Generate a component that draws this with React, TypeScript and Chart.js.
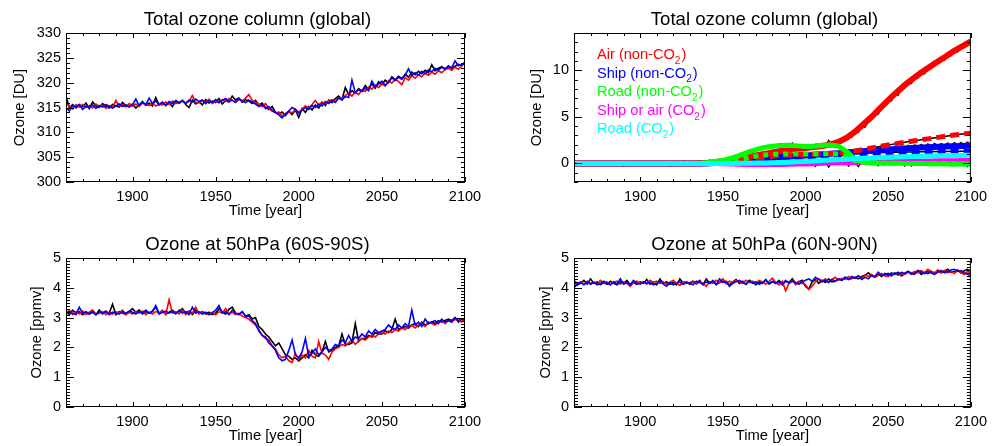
import { useEffect, useRef } from 'react';
import { Chart, registerables } from 'chart.js';

Chart.register(...registerables);

const FONT = "'Liberation Sans', Arial, Helvetica, sans-serif";

// ---------- categories / tick labels ----------
const YEARS2 = [
  1860, 1862, 1864, 1866, 1868, 1870, 1872, 1874, 1876, 1878,
  1880, 1882, 1884, 1886, 1888, 1890, 1892, 1894, 1896, 1898,
  1900, 1902, 1904, 1906, 1908, 1910, 1912, 1914, 1916, 1918,
  1920, 1922, 1924, 1926, 1928, 1930, 1932, 1934, 1936, 1938,
  1940, 1942, 1944, 1946, 1948, 1950, 1952, 1954, 1956, 1958,
  1960, 1962, 1964, 1966, 1968, 1970, 1972, 1974, 1976, 1978,
  1980, 1982, 1984, 1986, 1988, 1990, 1992, 1994, 1996, 1998,
  2000, 2002, 2004, 2006, 2008, 2010, 2012, 2014, 2016, 2018,
  2020, 2022, 2024, 2026, 2028, 2030, 2032, 2034, 2036, 2038,
  2040, 2042, 2044, 2046, 2048, 2050, 2052, 2054, 2056, 2058,
  2060, 2062, 2064, 2066, 2068, 2070, 2072, 2074, 2076, 2078,
  2080, 2082, 2084, 2086, 2088, 2090, 2092, 2094, 2096, 2098,
  2100,
];

const YEARS5 = [
  1860, 1865, 1870, 1875, 1880, 1885, 1890, 1895, 1900, 1905,
  1910, 1915, 1920, 1925, 1930, 1935, 1940, 1945, 1950, 1955,
  1960, 1965, 1970, 1975, 1980, 1985, 1990, 1995, 2000, 2005,
  2010, 2015, 2020, 2025, 2030, 2035, 2040, 2045, 2050, 2055,
  2060, 2065, 2070, 2075, 2080, 2085, 2090, 2095, 2100,
];

const X_TICKS = [1900, 1950, 2000, 2050, 2100];
const X_MIN = 1860;
const X_MAX = 2100;
const X_MINOR_STEP = 10;

const Y_TICKS_TOTAL = [300, 305, 310, 315, 320, 325, 330];
const Y_TICKS_CONTRIB = [0, 5, 10];
const Y_TICKS_PPMV = [0, 1, 2, 3, 4, 5];

// ---------- Total ozone column (global) ----------
const TOTAL_BLACK = [
  317.2, 315.0, 315.6, 314.9, 315.5,
  315.2, 315.9, 314.8, 316.1, 315.3,
  315.0, 315.8, 315.2, 314.9, 315.6,
  315.3, 315.1, 316.0, 315.4, 315.2,
  315.7, 314.9, 315.5, 316.2, 315.4,
  315.9, 315.3, 317.0, 315.5, 316.1,
  315.4, 316.0, 315.2, 316.3, 315.8,
  316.4, 315.6, 315.0, 316.5, 315.7,
  316.2, 315.5, 316.6, 315.9, 316.3,
  316.0, 316.8, 315.7, 316.4, 316.1,
  317.3, 316.5, 316.9, 316.1, 316.6,
  316.3, 315.8, 316.4, 315.5, 315.9,
  315.0, 314.6, 315.2, 314.0, 313.7,
  314.1, 313.4, 314.2, 313.6, 314.5,
  313.0, 314.8, 314.0, 315.2, 314.5,
  315.5, 314.9, 316.0, 315.4, 316.5,
  316.0, 316.8, 317.3, 316.6, 319.0,
  317.6, 318.4, 317.9, 318.8, 318.3,
  319.4, 318.6, 319.8, 318.9, 320.2,
  319.6, 320.5, 320.0, 321.2, 320.6,
  321.3, 320.8, 321.7, 321.1, 322.1,
  321.6, 322.3, 321.8, 322.5, 322.0,
  323.6, 322.4, 322.9, 323.2, 322.7,
  323.4, 322.9, 323.3, 323.7, 323.5,
  324.0,
];
const TOTAL_RED = [
  315.8, 315.3, 314.7, 315.6, 315.1,
  315.6, 315.0, 315.4, 314.9, 315.7,
  315.2, 315.5, 314.8, 315.4, 315.0,
  316.4, 315.3, 315.6, 315.1, 315.8,
  315.3, 315.7, 315.2, 315.9, 315.6,
  315.4, 315.9, 315.3, 315.7, 315.5,
  316.1, 315.6, 316.3, 315.8, 316.0,
  316.5, 315.8, 316.2, 317.4, 316.0,
  315.9, 316.4, 316.1, 316.7, 315.8,
  316.3, 315.9, 316.6, 316.2, 316.8,
  316.4, 316.1, 316.7, 316.3, 316.9,
  317.6, 316.5, 316.0, 315.6, 315.2,
  315.8, 314.8, 314.3, 313.9, 314.1,
  313.3, 313.8, 314.2, 313.9, 314.6,
  314.0, 314.7, 315.3, 314.9, 315.6,
  316.4, 315.5, 316.1, 315.7, 316.3,
  316.6, 316.2, 317.0, 316.8, 317.4,
  317.9, 317.3, 318.1, 317.6, 318.5,
  318.2, 319.1, 318.7, 319.5, 319.0,
  319.8, 319.3, 320.4, 319.9, 320.7,
  320.2, 319.6, 321.0, 320.5, 321.4,
  320.9, 321.6, 321.2, 321.9, 321.5,
  322.1, 321.7, 322.4, 322.0, 322.6,
  322.9, 322.5, 323.1, 322.7, 323.3,
  324.3,
];
const TOTAL_BLUE = [
  315.0, 314.3, 315.4, 315.1, 315.6,
  314.6, 315.3, 315.0, 315.5, 314.8,
  315.4, 315.1, 315.6, 315.2, 314.9,
  315.3, 315.7, 315.2, 315.5, 315.1,
  315.5, 316.7, 315.4, 316.0, 315.6,
  316.9, 315.8, 316.3, 315.6, 316.0,
  315.5, 316.2, 315.8, 316.4, 316.0,
  316.3, 315.9, 316.5, 316.1, 316.7,
  316.2, 316.5, 315.8, 316.4, 316.0,
  316.6, 316.1, 316.4, 316.8, 316.2,
  316.5, 316.0, 316.7, 316.3, 316.0,
  316.5, 316.1, 315.7, 315.2, 315.6,
  314.8, 315.2, 314.4, 314.0, 313.5,
  312.9, 313.6, 314.3, 315.0, 314.6,
  313.9, 314.4, 315.0, 314.6, 315.4,
  315.0, 315.6, 315.3, 316.2, 315.8,
  316.4, 316.0, 316.9, 316.5, 317.2,
  317.0, 320.5, 318.0, 318.6, 318.2,
  318.9, 318.4, 320.3, 319.2, 319.7,
  320.3, 319.5, 320.1, 321.0, 320.4,
  321.1, 320.7, 321.5, 322.8, 321.4,
  322.0, 321.5, 322.3, 321.8, 322.6,
  322.2, 322.9, 322.5, 323.1, 322.8,
  323.2, 323.0, 324.4, 323.4, 323.6,
  323.8,
];

// ---------- Ozone at 50hPa (60S-90S) ----------
const SOUTH_BLACK = [
  3.20, 3.10, 3.25, 3.15, 3.20,
  3.10, 3.18, 3.12, 3.22, 3.10,
  3.25, 3.12, 3.20, 3.15, 3.45,
  3.10, 3.20, 3.15, 3.10, 3.20,
  3.30, 3.18, 3.25, 3.12, 3.20,
  3.15, 3.22, 3.35, 3.15, 3.20,
  3.12, 3.18, 3.25, 3.15, 3.20,
  3.30, 3.15, 3.22, 3.10, 3.25,
  3.15, 3.20, 3.12, 3.18, 3.10,
  3.15, 3.30, 3.20, 3.12, 3.28,
  3.35, 3.15, 3.10, 3.20, 3.05,
  3.10, 2.95, 3.00, 2.70, 2.60,
  2.45, 2.35, 2.20, 2.05, 2.15,
  1.95, 1.75, 1.70, 1.60, 1.65,
  1.55, 1.65, 1.75, 1.65, 1.90,
  1.75, 1.70, 1.85, 2.20, 1.85,
  1.90, 2.00, 2.05, 2.45, 2.10,
  2.10, 2.15, 2.80, 2.20, 2.30,
  2.30, 2.40, 2.35, 2.50, 2.45,
  2.45, 2.55, 2.50, 2.60, 2.95,
  2.60, 2.65, 2.70, 2.65, 2.75,
  2.80, 2.70, 2.85, 2.75, 2.80,
  2.85, 2.80, 2.90, 2.85, 2.90,
  2.95, 2.90, 3.00, 2.85, 2.95,
  2.90,
];
const SOUTH_RED = [
  3.15, 3.25, 3.10, 3.20, 3.12,
  3.22, 3.10, 3.18, 3.25, 3.12,
  3.15, 3.20, 3.10, 3.18, 3.12,
  3.20, 3.15, 3.25, 3.10, 3.18,
  3.12, 3.20, 3.15, 3.22, 3.10,
  3.18, 3.12, 3.20, 3.15, 3.25,
  3.10, 3.60, 3.15, 3.20, 3.12,
  3.25, 3.10, 3.20, 3.15, 3.35,
  3.12, 3.20, 3.15, 3.10, 3.18,
  3.10, 3.20, 3.15, 3.30, 3.12,
  3.18, 3.10, 3.15, 3.05, 3.00,
  2.95, 2.85, 2.75, 2.60, 2.40,
  2.30, 2.25, 2.05, 1.95, 1.75,
  1.65, 1.70, 1.55, 1.50, 1.80,
  1.60, 1.75, 1.65, 1.90, 1.70,
  1.65, 2.20, 1.80, 1.75, 1.60,
  1.85, 1.95, 2.00, 2.10, 2.05,
  2.15, 2.25, 2.10, 2.20, 2.30,
  2.25, 2.35, 2.40, 2.35, 2.45,
  2.50, 2.45, 2.55, 2.50, 2.60,
  2.55, 2.65, 2.60, 2.70, 2.75,
  2.65, 2.75, 2.80, 2.70, 2.85,
  2.80, 2.75, 2.85, 2.90, 2.80,
  2.90, 2.85, 2.95, 2.90, 2.85,
  3.00,
];
const SOUTH_BLUE = [
  3.12, 3.20, 3.15, 3.10, 3.35,
  3.15, 3.20, 3.12, 3.18, 3.10,
  3.20, 3.15, 3.22, 3.10, 3.18,
  3.15, 3.12, 3.20, 3.15, 3.22,
  3.18, 3.12, 3.20, 3.15, 3.25,
  3.15, 3.20, 3.40, 3.12, 3.18,
  3.22, 3.15, 3.20, 3.12, 3.25,
  3.15, 3.20, 3.10, 3.35, 3.15,
  3.20, 3.12, 3.18, 3.10, 3.15,
  3.25, 3.40, 3.15, 3.20, 3.10,
  3.25, 3.15, 3.10, 3.20, 3.05,
  3.05, 2.90, 2.80, 2.55, 2.40,
  2.35, 2.15, 2.05, 1.90, 1.65,
  1.55, 1.60, 1.90, 2.25, 1.75,
  1.65, 1.85, 2.30, 1.70, 1.80,
  1.95, 1.75, 1.85, 2.00, 1.90,
  1.95, 2.10, 2.05, 2.25, 2.15,
  2.40, 2.20, 2.35, 2.30, 2.45,
  2.35, 2.55, 2.45, 2.60, 2.50,
  2.55, 2.60, 2.75, 2.65, 2.60,
  2.75, 2.65, 2.80, 2.70, 3.25,
  2.75, 2.85, 2.70, 2.95, 2.80,
  2.85, 2.90, 2.80, 2.95, 2.85,
  2.90, 2.85, 3.00, 2.90, 2.95,
  2.95,
];

// ---------- Ozone at 50hPa (60N-90N) ----------
const NORTH_BLACK = [
  4.20, 4.10, 4.15, 4.25, 4.12,
  4.30, 4.15, 4.20, 4.10, 4.18,
  4.12, 4.22, 4.15, 4.10, 4.20,
  4.15, 4.25, 4.10, 4.18, 4.12,
  4.20, 4.15, 4.28, 4.12, 4.18,
  4.10, 4.30, 4.15, 4.20, 4.12,
  4.18, 4.10, 4.30, 4.15, 4.20,
  4.12, 4.22, 4.15, 4.25, 4.10,
  4.30, 4.15, 4.20, 4.12, 4.18,
  4.22, 4.15, 4.10, 4.20, 4.28,
  4.15, 4.22, 4.12, 4.25, 4.18,
  4.10, 4.20, 4.15, 4.28, 4.12,
  4.20, 4.15, 4.25, 4.10, 4.22,
  4.18, 4.30, 4.15, 4.20, 4.25,
  4.05, 3.95, 4.20, 4.28, 4.15,
  4.25, 4.18, 4.30, 4.20, 4.22,
  4.30, 4.25, 4.35, 4.28, 4.32,
  4.35, 4.30, 4.38, 4.42, 4.50,
  4.40, 4.35, 4.45, 4.38, 4.48,
  4.42, 4.50, 4.45, 4.52, 4.40,
  4.48, 4.55, 4.45, 4.50, 4.58,
  4.45, 4.52, 4.48, 4.55, 4.50,
  4.58, 4.50, 4.55, 4.62, 4.52,
  4.55, 4.60, 4.50, 4.57, 4.62,
  4.55,
];
const NORTH_RED = [
  4.25, 4.15, 4.20, 4.12, 4.22,
  4.15, 4.20, 4.12, 4.25, 4.15,
  4.20, 4.10, 4.18, 4.22, 4.12,
  4.20, 4.15, 4.05, 4.18, 4.22,
  4.15, 4.20, 4.12, 4.25, 4.18,
  4.22, 4.15, 4.20, 4.12, 4.18,
  4.25, 4.15, 4.08, 4.20, 4.15,
  4.18, 4.22, 4.12, 4.20, 4.15,
  4.05, 4.20, 4.15, 4.25, 4.18,
  4.30, 4.15, 4.22, 4.18, 4.25,
  4.20, 4.15, 4.25, 4.18, 4.22,
  4.15, 4.25, 4.20, 4.12, 4.22,
  4.32, 4.18, 4.10, 4.22, 3.90,
  4.15, 4.25, 4.10, 4.22, 4.15,
  4.10, 3.95, 4.05, 4.20, 4.30,
  4.22, 4.30, 4.18, 4.28, 4.35,
  4.25, 4.32, 4.28, 4.38, 4.30,
  4.35, 4.40, 4.32, 4.42, 4.38,
  4.45, 4.35, 4.42, 4.48, 4.40,
  4.38, 4.45, 4.50, 4.42, 4.48,
  4.45, 4.52, 4.48, 4.55, 4.50,
  4.58, 4.50, 4.62, 4.55, 4.48,
  4.60, 4.52, 4.58, 4.50, 4.55,
  4.48, 4.58, 4.52, 4.45, 4.55,
  4.50,
];
const NORTH_BLUE = [
  4.00, 4.12, 4.18, 4.10, 4.20,
  4.12, 4.18, 4.10, 4.15, 4.22,
  4.15, 4.10, 4.20, 4.12, 4.30,
  4.12, 4.18, 4.10, 4.25, 4.15,
  4.12, 4.20, 4.15, 4.18, 4.10,
  4.15, 4.22, 4.12, 4.05, 4.18,
  4.10, 4.15, 4.20, 4.12, 4.18,
  4.15, 4.10, 4.22, 4.18, 4.12,
  4.20, 4.15, 4.25, 4.10, 4.30,
  4.18, 4.22, 4.05, 4.15, 4.20,
  4.25, 4.18, 4.12, 4.22, 4.15,
  4.20, 4.12, 4.18, 4.25, 4.15,
  4.22, 4.15, 4.20, 4.12, 4.25,
  4.15, 4.22, 4.18, 4.12, 4.20,
  4.25, 4.30, 4.22, 4.35, 4.28,
  4.20, 4.25, 4.18, 4.28, 4.22,
  4.30, 4.25, 4.35, 4.28, 4.38,
  4.32, 4.40, 4.28, 4.35, 4.30,
  4.42, 4.38, 4.52, 4.40, 4.45,
  4.48, 4.40, 4.50, 4.45, 4.52,
  4.48, 4.55, 4.50, 4.45, 4.58,
  4.52, 4.48, 4.55, 4.50, 4.45,
  4.52, 4.58, 4.50, 4.55, 4.60,
  4.62, 4.55, 4.58, 4.50, 4.45,
  4.40,
];

// ---------- Total ozone column contributions (smoothed, 5-yr) ----------
const AIR_NONCO2 = [
  0, 0, 0, 0, 0, 0, 0, 0, 0, 0,
  0, 0, 0, 0, 0, 0, 0.05, 0.12, 0.22, 0.35,
  0.5, 0.68, 0.86, 1.02, 1.18, 1.32, 1.45, 1.56, 1.66, 1.76,
  1.87, 2.02, 2.3, 2.75, 3.4, 4.2, 5.0, 5.9, 6.8, 7.6,
  8.4, 9.1, 9.75, 10.35, 10.95, 11.5, 12.1, 12.6, 13.1,
];
const AIR_NONCO2_ALT = [
  0, 0, 0, 0, 0, 0, 0, 0, 0, 0,
  0, 0, 0, 0, 0, 0, 0, 0, 0.08, 0.18,
  0.3, 0.42, 0.55, 0.66, 0.76, 0.84, 0.9, 0.94, 0.97, 1.0,
  1.03, 1.07, 1.12, 1.2, 1.32, 1.48, 1.65, 1.82, 1.98, 2.12,
  2.26, 2.4, 2.53, 2.66, 2.79, 2.92, 3.04, 3.15, 3.25,
];
const SHIP_NONCO2 = [
  0, 0, 0, 0, 0, 0, 0, 0, 0, 0,
  0, 0, 0, 0, 0, 0, 0, 0.03, 0.08, 0.15,
  0.25, 0.36, 0.46, 0.54, 0.6, 0.66, 0.72, 0.78, 0.84, 0.9,
  0.97, 1.04, 1.1, 1.17, 1.24, 1.31, 1.38, 1.44, 1.5, 1.55,
  1.6, 1.65, 1.7, 1.74, 1.78, 1.81, 1.84, 1.86, 1.88,
];
const SHIP_NONCO2_ALT = [
  0, 0, 0, 0, 0, 0, 0, 0, 0, 0,
  0, 0, 0, 0, 0, 0, 0, 0.02, 0.05, 0.1,
  0.18, 0.27, 0.35, 0.42, 0.48, 0.53, 0.58, 0.63, 0.68, 0.73,
  0.78, 0.84, 0.9, 0.96, 1.02, 1.07, 1.11, 1.14, 1.17, 1.19,
  1.21, 1.23, 1.25, 1.26, 1.27, 1.28, 1.29, 1.3, 1.3,
];
const ROAD_NONCO2 = [
  0, 0, 0, 0, 0, 0, 0, 0, 0, 0,
  0, 0, 0, 0, 0, 0, 0.08, 0.18, 0.33, 0.55,
  0.85, 1.18, 1.48, 1.7, 1.84, 1.93, 1.95, 1.88, 1.8, 1.83,
  1.92, 1.98, 1.85, 1.25, 0.45, 0.15, 0.06, 0.03, 0.02, 0.01,
  0, 0, -0.02, -0.03, -0.04, -0.05, -0.06, -0.07, -0.08,
];
const ROAD_NONCO2_ALT = [
  0, 0, 0, 0, 0, 0, 0, 0, 0, 0,
  0, 0, 0, 0, 0, 0, 0, 0, 0.1, 0.22,
  0.4, 0.6, 0.78, 0.9, 0.97, 1.0, 1.02, 1.02, 1.0, 1.0,
  1.02, 1.04, 1.0, 0.75, 0.3, 0.1, 0.04, 0.02, 0.01, 0,
  0, -0.01, -0.02, -0.03, -0.04, -0.05, -0.06, -0.07, -0.08,
];
const SHIPAIR_CO2 = [
  0, 0, 0, 0, 0, 0, 0, 0, 0, 0,
  0, 0, 0, 0, 0, 0, 0, -0.02, -0.05, -0.08,
  -0.1, -0.12, -0.12, -0.12, -0.12, -0.11, -0.1, -0.08, -0.06, -0.03,
  0, 0.03, 0.06, 0.08, 0.1, 0.12, 0.14, 0.16, 0.18, 0.2,
  0.21, 0.23, 0.24, 0.26, 0.27, 0.28, 0.29, 0.3, 0.3,
];
const ROAD_CO2 = [
  0, 0, 0, 0, 0, 0, 0, 0, 0, 0,
  0, 0, 0, 0, 0, 0, 0, 0, 0, 0,
  0.01, 0.02, 0.03, 0.05, 0.07, 0.1, 0.13, 0.17, 0.21, 0.26,
  0.3, 0.35, 0.4, 0.45, 0.5, 0.55, 0.59, 0.62, 0.65, 0.68,
  0.71, 0.74, 0.77, 0.8, 0.82, 0.84, 0.85, 0.86, 0.86,
];

// ---------- contributions: raw annual-ish runs (2-yr) ----------
const RAW_AIR = [
  0.05, -0.10, 0.02, 0.12, -0.05,
  0.04, -0.12, 0.08, -0.02, 0.06,
  -0.06, 0.10, 0.00, -0.08, 0.04,
  -0.30, 0.06, 0.12, -0.04, 0.02,
  0.08, -0.06, 0.14, 0.00, -0.10,
  0.04, 0.15, -0.04, 0.08, -0.02,
  0.10, -0.04, 0.06, 0.25, 0.00,
  0.08, -0.06, 0.20, 0.04, 0.15,
  0.00, 0.35, 0.10, 0.40, 0.15,
  0.45, 0.20, 0.60, 0.30, 0.70,
  0.40, 0.85, 0.55, 0.90, 0.75,
  1.05, 0.70, 1.20, 0.95, 1.30,
  1.00, 1.45, 1.15, 1.55, 1.25,
  1.70, 1.35, 1.80, 1.45, 1.95,
  1.55, 2.00, 1.65, 2.05, 1.75,
  2.15, 1.80, 2.50, 1.95, 2.30,
  2.15, 2.70, 2.45, 3.05, 2.80,
  3.55, 3.30, 4.05, 3.85, 4.55,
  4.85, 5.45, 5.25, 6.00, 6.15,
  6.95, 6.70, 7.45, 7.30, 8.00,
  8.25, 8.70, 8.55, 9.20, 9.15,
  9.95, 9.60, 10.30, 10.15, 10.70,
  10.80, 11.25, 11.05, 11.70, 11.55,
  12.30, 11.95, 12.60, 12.45, 13.00,
  13.25,
];
const RAW_ROAD = [
  -0.04, 0.08, -0.10, 0.03, 0.06,
  -0.08, 0.02, 0.10, -0.05, 0.00,
  0.06, -0.10, 0.04, 0.12, -0.03,
  0.02, -0.06, 0.08, -0.12, 0.05,
  -0.04, 0.10, -0.08, 0.03, 0.12,
  -0.06, 0.02, 0.20, -0.04, 0.06,
  0.00, 0.12, -0.05, 0.08, 0.15,
  0.05, 0.20, 0.02, 0.25, 0.10,
  0.05, 0.22, 0.15, 0.30, 0.25,
  0.45, 0.30, 0.60, 0.55, 0.80,
  0.95, 0.85, 1.25, 1.15, 1.45,
  1.35, 1.70, 1.55, 1.85, 1.75,
  1.95, 1.75, 2.10, 1.85, 2.05,
  1.90, 2.20, 1.85, 1.95, 1.70,
  1.90, 1.70, 2.05, 1.80, 1.95,
  1.80, 2.10, 1.90, 2.35, 1.95,
  2.05, 1.55, 1.50, 0.95, 0.85,
  0.50, 0.20, 0.35, 0.05, 0.15,
  -0.05, 0.15, 0.00, 0.10, -0.10,
  0.05, -0.15, 0.10, -0.05, 0.08,
  -0.12, 0.05, -0.30, 0.02, -0.05,
  0.08, -0.10, 0.00, -0.20, 0.05,
  -0.08, 0.02, -0.15, 0.00, -0.25,
  0.00, -0.12, -0.05, -0.18, 0.02,
  -0.10,
];
const RAW_SHIP = [
  0.02, -0.06, 0.10, -0.02, 0.05,
  0.08, -0.04, 0.00, 0.12, -0.08,
  0.03, 0.06, -0.12, 0.02, 0.09,
  -0.05, 0.04, -0.02, 0.10, -0.06,
  0.06, -0.12, 0.02, 0.08, -0.04,
  0.12, -0.02, 0.05, -0.10, 0.04,
  -0.06, 0.08, 0.02, -0.04, 0.10,
  0.02, -0.08, 0.12, 0.00, 0.06,
  -0.04, 0.10, 0.02, 0.15, 0.05,
  0.20, 0.05, 0.25, 0.10, 0.30,
  0.20, 0.40, 0.30, 0.50, 0.35,
  0.55, 0.40, 0.65, 0.50, 0.70,
  0.55, 0.75, 0.60, 0.85, 0.65,
  0.85, 0.70, 0.95, 0.75, 1.00,
  0.80, 1.05, 0.85, 1.10, 0.90,
  1.15, 0.95, 1.25, 1.05, 1.30,
  1.10, 1.35, 1.15, 1.45, 1.20,
  1.45, 1.25, 1.55, 1.35, 1.60,
  1.40, 1.65, 1.50, 1.75, 1.55,
  1.80, 1.55, 1.85, 1.60, 1.90,
  1.65, 1.95, 1.70, 2.00, 1.75,
  2.05, 1.80, 2.10, 1.85, 2.15,
  1.90, 2.15, 1.95, 2.20, 1.95,
  2.25, 2.00, 2.25, 2.05, 2.30,
  2.05,
];
const RAW_CO2 = [
  0.00, 0.05, -0.08, 0.03, -0.04,
  0.06, -0.03, 0.02, -0.10, 0.04,
  -0.02, 0.08, -0.05, 0.00, 0.06,
  -0.08, 0.03, -0.25, 0.05, -0.02,
  0.04, -0.06, 0.02, 0.08, -0.04,
  -0.02, 0.06, -0.08, 0.03, -0.30,
  0.05, -0.04, 0.08, -0.06, 0.02,
  -0.08, 0.12, -0.04, 0.06, -0.20,
  0.04, -0.10, 0.08, -0.06, 0.10,
  -0.12, 0.06, -0.20, 0.08, -0.10,
  0.05, -0.25, 0.02, -0.15, 0.08,
  -0.18, 0.04, -0.10, 0.12, -0.22,
  0.02, -0.15, 0.08, -0.30, 0.00,
  -0.12, 0.10, -0.20, 0.05, -0.08,
  0.12, -0.18, 0.06, -0.35, 0.10,
  -0.05, 0.15, -0.40, 0.08, -0.10,
  0.20, -0.05, 0.25, -0.30, 0.15,
  0.05, -0.35, 0.25, 0.00, 0.30,
  -0.10, 0.20, -0.25, 0.30, 0.05,
  0.25, -0.15, 0.35, -0.05, 0.20,
  -0.30, 0.30, 0.05, 0.40, -0.10,
  0.25, 0.00, 0.35, -0.20, 0.30,
  0.10, 0.40, -0.15, 0.30, 0.05,
  0.35, -0.10, 0.40, 0.15, -0.35,
  0.30,
];

const LEGEND_ITEMS = [
  { pre: 'Air (non-CO', color: '#ff0000' },
  { pre: 'Ship (non-CO', color: '#0000ff' },
  { pre: 'Road (non-CO', color: '#00ff00' },
  { pre: 'Ship or air (CO', color: '#ff00ff' },
  { pre: 'Road (CO', color: '#00ffff' },
];

// ---------- helpers ----------
const toPts = (xs: number[], ys: (number | null)[]) => xs.map((x, i) => ({ x, y: ys[i] }));

const ln = (xs: number[], ys: number[], color: string, width: number, order: number, extra: any = {}) => ({
  data: toPts(xs, ys),
  borderColor: color,
  backgroundColor: color,
  borderWidth: width,
  pointRadius: 0,
  fill: false,
  tension: 0,
  order,
  ...extra,
});

interface Spec {
  title: string;
  yTitle: string;
  yTitleOff: number;
  yMin: number;
  yMax: number;
  yTicks: number[];
  yMinorStep: number;
  area: { left: number; right: number; top: number; bottom: number };
  legend?: boolean;
  datasets: any[];
}

const noisy = (black: number[], red: number[], blue: number[]) => [
  ln(YEARS2, blue, '#0000ff', 1.6, 1),
  ln(YEARS2, red, '#ff0000', 1.6, 2),
  ln(YEARS2, black, '#000000', 1.6, 3),
];

const W_L = 500;
const W_R = 493;
const H = 223;

const SPECS: { spec: Spec; left: number; top: number; width: number }[] = [
  {
    left: 0, top: 0, width: W_L,
    spec: {
      title: 'Total ozone column (global)', yTitle: 'Ozone [DU]', yTitleOff: 46,
      yMin: 300, yMax: 330, yTicks: Y_TICKS_TOTAL, yMinorStep: 1,
      area: { left: 66, right: 465, top: 33, bottom: 182 },
      datasets: noisy(TOTAL_BLACK, TOTAL_RED, TOTAL_BLUE),
    },
  },
  {
    left: W_L, top: 0, width: W_R,
    spec: {
      title: 'Total ozone column (global)', yTitle: 'Ozone [DU]', yTitleOff: 37,
      yMin: -2, yMax: 14, yTicks: Y_TICKS_CONTRIB, yMinorStep: 1,
      area: { left: 74, right: 474, top: 33, bottom: 182 }, legend: true,
      datasets: [
        ln(YEARS5, ROAD_CO2, '#00ffff', 5, 1),
        ln(YEARS5, ROAD_NONCO2, '#00ff00', 5, 2),
        ln(YEARS5, ROAD_NONCO2_ALT, '#00ff00', 5, 3, { borderDash: [5, 5] }),
        ln(YEARS5, AIR_NONCO2, '#ff0000', 6, 4),
        ln(YEARS5, AIR_NONCO2_ALT, '#ff0000', 5, 5, { borderDash: [9, 5] }),
        ln(YEARS5, SHIP_NONCO2, '#0000ff', 6, 6),
        ln(YEARS5, SHIP_NONCO2_ALT, '#0000ff', 5, 7, { borderDash: [8, 5] }),
        ln(YEARS5, SHIP_NONCO2_ALT, '#000000', 1.5, 8),
        ln(YEARS5, SHIPAIR_CO2, '#ff00ff', 5, 9),
        ln(YEARS5, AIR_NONCO2_ALT, '#000000', 1.5, 10),
        ln(YEARS5, ROAD_NONCO2_ALT, '#000000', 1.5, 11),
        ln(YEARS2, RAW_AIR, '#000000', 1.2, 12),
        ln(YEARS2, RAW_ROAD, '#000000', 1.2, 13),
        ln(YEARS2, RAW_SHIP, '#000000', 1.2, 14),
        ln(YEARS2, RAW_CO2, '#000000', 1.2, 15),
      ],
    },
  },
  {
    left: 0, top: H, width: W_L,
    spec: {
      title: 'Ozone at 50hPa (60S-90S)', yTitle: 'Ozone [ppmv]', yTitleOff: 29.5,
      yMin: 0, yMax: 5, yTicks: Y_TICKS_PPMV, yMinorStep: 0.1,
      area: { left: 66, right: 465, top: 35, bottom: 184 },
      datasets: noisy(SOUTH_BLACK, SOUTH_RED, SOUTH_BLUE),
    },
  },
  {
    left: W_L, top: H, width: W_R,
    spec: {
      title: 'Ozone at 50hPa (60N-90N)', yTitle: 'Ozone [ppmv]', yTitleOff: 28,
      yMin: 0, yMax: 5, yTicks: Y_TICKS_PPMV, yMinorStep: 0.1,
      area: { left: 74, right: 474, top: 35, bottom: 184 },
      datasets: noisy(NORTH_BLACK, NORTH_RED, NORTH_BLUE),
    },
  },
];

const decorPlugin = (spec: Spec) => ({
  id: 'decor',
  afterDraw(chart: any) {
    const { ctx, chartArea: a } = chart;
    const xs = chart.scales.x;
    const ys = chart.scales.y;
    ctx.save();
    ctx.strokeStyle = '#000';
    ctx.lineWidth = 1;
    ctx.strokeRect(a.left + 0.5, a.top + 0.5, a.right - a.left - 1, a.bottom - a.top - 1);

    ctx.beginPath();
    const nx = Math.round((X_MAX - X_MIN) / X_MINOR_STEP);
    for (let i = 0; i <= nx; i++) {
      const v = X_MIN + i * X_MINOR_STEP;
      const major = X_TICKS.includes(v);
      const len = major ? 5 : 3;
      const p = Math.round(xs.getPixelForValue(v)) + 0.5;
      ctx.moveTo(p, a.bottom);
      ctx.lineTo(p, a.bottom - len);
      ctx.moveTo(p, a.top);
      ctx.lineTo(p, a.top + len);
    }
    const ny = Math.round((spec.yMax - spec.yMin) / spec.yMinorStep);
    for (let i = 0; i <= ny; i++) {
      const v = spec.yMin + i * spec.yMinorStep;
      const major = spec.yTicks.some((t) => Math.abs(t - v) < 1e-6);
      const len = major ? 8 : 4;
      const p = Math.round(ys.getPixelForValue(v)) + 0.5;
      ctx.moveTo(a.left, p);
      ctx.lineTo(a.left + len, p);
      ctx.moveTo(a.right, p);
      ctx.lineTo(a.right - len, p);
    }
    ctx.stroke();

    ctx.fillStyle = '#000';
    ctx.textAlign = 'center';
    ctx.textBaseline = 'middle';
    const cx = (a.left + a.right) / 2;
    ctx.font = `18.6px ${FONT}`;
    ctx.fillText(spec.title, cx - 8, a.top - 13);
    ctx.font = `14.8px ${FONT}`;
    ctx.fillText('Time [year]', cx, a.bottom + 29);
    ctx.save();
    ctx.translate(a.left - spec.yTitleOff, (a.top + a.bottom) / 2);
    ctx.rotate(-Math.PI / 2);
    ctx.fillText(spec.yTitle, 0, 0);
    ctx.restore();

    if (spec.legend) {
      ctx.textAlign = 'left';
      LEGEND_ITEMS.forEach((it, i) => {
        const x = a.left + 23;
        const y = a.top + 22 + i * 18.6;
        ctx.fillStyle = it.color;
        ctx.font = `14.6px ${FONT}`;
        ctx.fillText(it.pre, x, y);
        const w = ctx.measureText(it.pre).width;
        ctx.font = `10px ${FONT}`;
        ctx.fillText('2', x + w, y + 6);
        const w2 = ctx.measureText('2').width;
        ctx.font = `14.6px ${FONT}`;
        ctx.fillText(')', x + w + w2 + 1, y);
      });
    }
    ctx.restore();
  },
});

function buildConfig(spec: Spec, width: number, height: number): any {
  const a = spec.area;
  return {
    type: 'line',
    data: { datasets: spec.datasets },
    options: {
      animation: false,
      responsive: false,
      maintainAspectRatio: false,
      events: [],
      layout: { padding: { left: 0, top: a.top, right: width - a.right, bottom: 0 } },
      plugins: { legend: { display: false }, title: { display: false }, tooltip: { enabled: false } },
      scales: {
        x: {
          type: 'linear',
          min: X_MIN,
          max: X_MAX,
          grid: { display: false, drawTicks: false },
          border: { display: false },
          ticks: {
            color: '#000',
            font: { family: FONT, size: 14.5 },
            padding: 6,
            maxRotation: 0,
            autoSkip: false,
            callback: (v: any) => String(v),
          },
          afterBuildTicks: (s: any) => {
            s.ticks = X_TICKS.map((v) => ({ value: v }));
          },
          afterFit: (s: any) => {
            s.height = height - a.bottom;
          },
        },
        y: {
          type: 'linear',
          min: spec.yMin,
          max: spec.yMax,
          grid: { display: false, drawTicks: false },
          border: { display: false },
          ticks: {
            color: '#000',
            font: { family: FONT, size: 14.5 },
            padding: 5,
            autoSkip: false,
            callback: (v: any) => String(v),
          },
          afterBuildTicks: (s: any) => {
            s.ticks = spec.yTicks.map((v) => ({ value: v }));
          },
          afterFit: (s: any) => {
            s.width = a.left;
          },
        },
      },
    },
    plugins: [decorPlugin(spec)],
  };
}

function Panel({ spec, left, top, width }: { spec: Spec; left: number; top: number; width: number }) {
  const ref = useRef<HTMLCanvasElement>(null);
  useEffect(() => {
    const chart = new Chart(ref.current as HTMLCanvasElement, buildConfig(spec, width, H));
    return () => chart.destroy();
  }, [spec, width]);
  return (
    <canvas
      ref={ref}
      width={width}
      height={H}
      style={{ position: 'absolute', left, top, width, height: H, display: 'block' }}
    />
  );
}

export default function App() {
  return (
    <div style={{ position: 'fixed', left: 0, top: 0, width: 993, height: 446, background: '#fff' }}>
      {SPECS.map((p, i) => (
        <Panel key={i} spec={p.spec} left={p.left} top={p.top} width={p.width} />
      ))}
    </div>
  );
}
